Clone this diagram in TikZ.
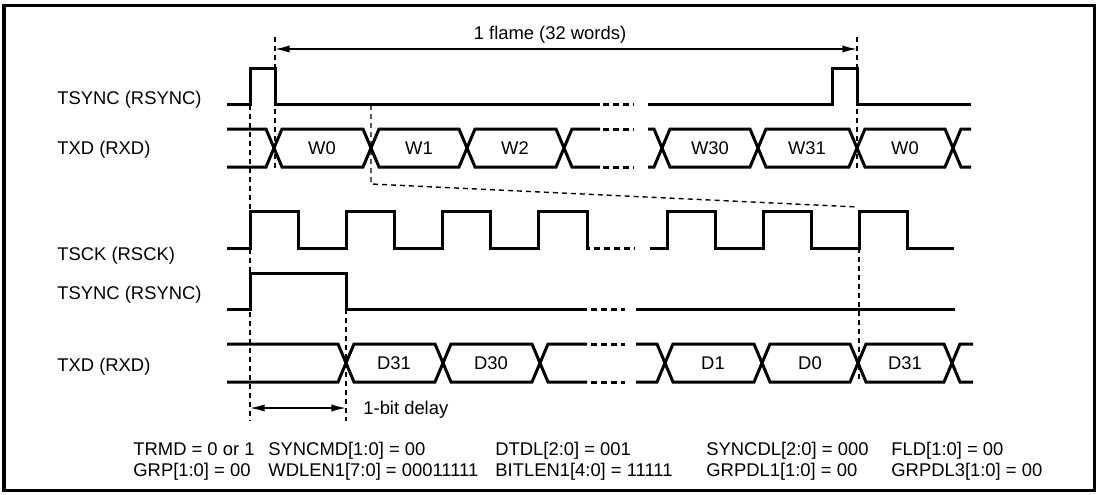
\documentclass[tikz,border=0pt]{standalone}
\usepackage{fontspec}
\setmainfont{Liberation Sans}
\usetikzlibrary{arrows.meta}
\begin{document}
\begin{tikzpicture}[x=0.5pt,y=-0.5pt,
  sig/.style={line width=1.5pt, line join=miter},
  brk/.style={line width=1.5pt, dash pattern=on 3pt off 2pt},
  guide/.style={line width=0.7pt, dash pattern=on 2.5pt off 2pt},
  dim/.style={line width=0.7pt, {Latex[length=7.3pt,width=3.6pt]}-{Latex[length=7.3pt,width=3.6pt]}},
  lbl/.style={font=\fontsize{9.2}{11}\selectfont, inner sep=0pt},
]
\useasboundingbox (0,0) rectangle (1100,494);
\draw[line width=1.5pt] (4,5) rectangle (1094,490);

% signal names
\node[lbl, anchor=base west] (n1) at (57,104.5) {TSYNC (RSYNC)};
\node[lbl, anchor=base west] (n2) at (57,154.5) {TXD (RXD)};
\node[lbl, anchor=base west] (n3) at (57,260) {TSCK (RSCK)};
\node[lbl, anchor=base west] (n4) at (57,299.5) {TSYNC (RSYNC)};
\node[lbl, anchor=base west] (n5) at (57,371.5) {TXD (RXD)};

% row 1: TSYNC
\draw[sig] (227,104) -- (250,104) -- (250,68) -- (275,68) -- (275,104) -- (600,104);
\draw[brk] (603,104) -- (634,104);
\draw[sig] (648,104) -- (832,104) -- (832,68) -- (857,68) -- (857,104) -- (971,104);

% row 2: TXD
\draw[sig] (227,129) -- (266,129) -- (282,167) -- (363,167) -- (379,129) -- (459,129) -- (475,167) -- (556,167) -- (572,129) -- (600,129);
\draw[sig] (227,167) -- (266,167) -- (282,129) -- (363,129) -- (379,167) -- (459,167) -- (475,129) -- (556,129) -- (572,167) -- (600,167);
\draw[brk] (603,129) -- (634,129) (603,167) -- (634,167);
\draw[sig] (648,129) -- (654,129) -- (670,167) -- (750,167) -- (766,129) -- (849,129) -- (865,167) -- (945,167) -- (961,129) -- (971,129);
\draw[sig] (648,167) -- (654,167) -- (670,129) -- (750,129) -- (766,167) -- (849,167) -- (865,129) -- (945,129) -- (961,167) -- (971,167);
\foreach \x/\t/\n in {322/W0/wa, 419/W1/wb, 515/W2/wc, 710/W30/wd, 807/W31/we, 905/W0/wf}
  \node[lbl, anchor=base] (\n) at (\x,154.5) {\t};

% row 3: TSCK
\draw[sig] (227,248) -- (250,248) -- (250,211) -- (298,211) -- (298,248) -- (346,248) -- (346,211) -- (394,211) -- (394,248) -- (442,248) -- (442,211) -- (490,211) -- (490,248) -- (538,248) -- (538,211) -- (587,211) -- (587,248) -- (590,248);
\draw[brk] (594,248) -- (635,248);
\draw[sig] (650,248) -- (667,248) -- (667,211) -- (715,211) -- (715,248) -- (763,248) -- (763,211) -- (811,211) -- (811,248) -- (859,248) -- (859,211) -- (907,211) -- (907,248) -- (954,248);

% row 4: TSYNC
\draw[sig] (227,309) -- (250,309) -- (250,273) -- (346,273) -- (346,309) -- (587,309);
\draw[brk] (591,309) -- (625,309);
\draw[sig] (636,309) -- (955,309);

% row 5: TXD
\draw[sig] (227,344) -- (338,344) -- (354,382) -- (435,382) -- (451,344) -- (532,344) -- (548,382) -- (587,382);
\draw[sig] (227,382) -- (338,382) -- (354,344) -- (435,344) -- (451,382) -- (532,382) -- (548,344) -- (587,344);
\draw[brk] (591,344) -- (625,344) (591,382) -- (625,382);
\draw[sig] (636,344) -- (657,344) -- (673,382) -- (754,382) -- (770,344) -- (850,344) -- (866,382) -- (944,382) -- (960,344) -- (973,344);
\draw[sig] (636,382) -- (657,382) -- (673,344) -- (754,344) -- (770,382) -- (850,382) -- (866,344) -- (944,344) -- (960,382) -- (973,382);
\foreach \x/\t/\n in {394/D31/da, 491/D30/db, 713/D1/dc, 810/D0/dd, 905/D31/de}
  \node[lbl, anchor=base] (\n) at (\x,369.5) {\t};

% guide lines
\draw[guide] (250,105) -- (250,421);
\draw[guide] (275,37) -- (275,168);
\draw[guide] (857,37) -- (857,168);
\draw[guide] (371,105) -- (371,184) -- (858,207);
\draw[guide] (859,248) -- (859,383);
\draw[guide] (346,309) -- (346,421);

% dimension arrows
\coordinate (fA) at (275,49);
\coordinate (fB) at (857,49);
\draw[dim] (fA) -- (fB);
\node[lbl, anchor=base] (flame) at (550,39.5) {1 flame (32 words)};
\coordinate (dA) at (250,408);
\coordinate (dB) at (346,408);
\draw[dim] (dA) -- (dB);
\node[lbl, anchor=base west] (delay) at (363,414.5) {1-bit delay};

% register settings
\node[lbl, anchor=base west] (r1) at (133,455.5) {TRMD = 0 or 1};
\node[lbl, anchor=base west] (r2) at (268,455.5) {SYNCMD[1:0] = 00};
\node[lbl, anchor=base west] (r3) at (495,455.5) {DTDL[2:0] = 001};
\node[lbl, anchor=base west] (r4) at (706,455.5) {SYNCDL[2:0] = 000};
\node[lbl, anchor=base west] (r5) at (891,455.5) {FLD[1:0] = 00};
\node[lbl, anchor=base west] (s1) at (133,476.5) {GRP[1:0] = 00};
\node[lbl, anchor=base west] (s2) at (268,476.5) {WDLEN1[7:0] = 00011111};
\node[lbl, anchor=base west] (s3) at (495,476.5) {BITLEN1[4:0] = 11111};
\node[lbl, anchor=base west] (s4) at (706,476.5) {GRPDL1[1:0] = 00};
\node[lbl, anchor=base west] (s5) at (891,476.5) {GRPDL3[1:0] = 00};
\end{tikzpicture}
\end{document}
